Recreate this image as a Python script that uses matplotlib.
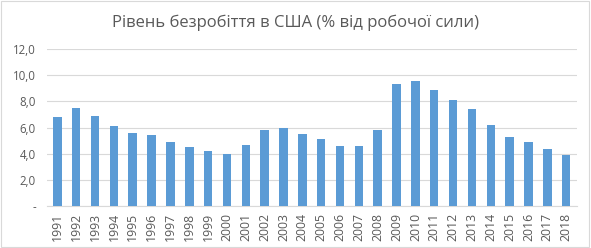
import numpy as np
import matplotlib.pyplot as plt
from matplotlib.patches import Rectangle

years = [str(y) for y in range(1991, 2019)]
rate = [6.8, 7.5, 6.9, 6.1, 5.6, 5.4, 4.9, 4.5, 4.2, 4.0,
        4.7, 5.8, 6.0, 5.5, 5.1, 4.6, 4.6, 5.8, 9.3, 9.6,
        8.9, 8.1, 7.4, 6.2, 5.3, 4.9, 4.4, 3.9]
yticks = [0, 2, 4, 6, 8, 10, 12]
ylabels = ['-', '2,0', '4,0', '6,0', '8,0', '10,0', '12,0']

plt.rcParams['font.family'] = ['Open Sans', 'DejaVu Sans']

fig = plt.figure(figsize=(5.91, 2.48), dpi=100)
ax = fig.add_axes([0.0795, 0.169, 0.896, 0.633])

x = np.arange(len(years))
ax.bar(x, rate, width=0.45, color='#5b9bd5', zorder=3)

ax.set_xlim(-0.55, len(years) - 0.45)
ax.set_ylim(0, 12)
ax.set_yticks(yticks)
ax.set_yticklabels(ylabels)
ax.set_xticks(x)
ax.set_xticklabels(years, rotation=90)
ax.tick_params(axis='y', length=0, labelsize=8.3, colors='#595959', pad=8)
ax.tick_params(axis='x', length=0, labelsize=8.8, colors='#595959', pad=5)
ax.grid(axis='y', color='#d9d9d9', linewidth=0.8, zorder=0)
for s in ['top', 'right', 'left']:
    ax.spines[s].set_visible(False)
ax.spines['bottom'].set_color('#d9d9d9')

fig.text(0.5, 0.91, 'Рівень безробіття в США (% від робочої сили)',
         ha='center', va='center', fontsize=12, color='#595959')

fig.patches.append(Rectangle((0.002, 0.004), 0.995, 0.99, transform=fig.transFigure,
                             fill=False, edgecolor='#d9d9d9', linewidth=0.8))

fig.savefig('out.png', dpi=100)
